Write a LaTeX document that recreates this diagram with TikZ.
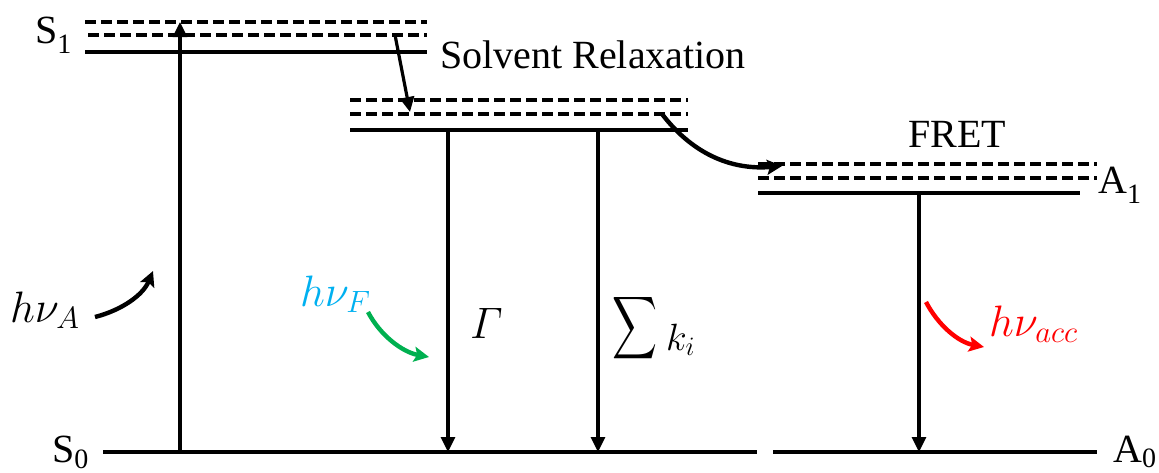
\RequirePackage{fix-cm}
\documentclass[tikz,border=0pt]{standalone}
\usepackage{amsmath}
\usepackage{amssymb}
\usepackage{fontspec}
\setmainfont{Liberation Serif}
\usetikzlibrary{arrows.meta}
\definecolor{fcyan}{RGB}{0,176,240}
\definecolor{fgreen}{RGB}{0,176,80}
\definecolor{fred}{RGB}{255,0,0}
\newcommand\lvsub[2]{\raisebox{-#1}{\fontsize{28}{28}\selectfont #2}}
\tikzset{
  lbl/.style={font=\fontsize{40}{48}\selectfont, inner sep=0pt, anchor=base west},
  mlbl/.style={font=\fontsize{44}{52}\selectfont, inner sep=0pt, anchor=base west},
  level/.style={line width=3.4pt},
  vlevel/.style={line width=3.4pt, dash pattern=on 11pt off 5pt},
  trans/.style={line width=3.2pt, -{Triangle[length=15pt,width=14pt]}},
  curvy/.style={line width=4.4pt, -{Stealth[length=15pt,width=15pt,inset=3pt]}}
}
\begin{document}
\begin{tikzpicture}[x=1pt,y=-1pt]
\useasboundingbox (0,0) rectangle (1159,472);
% donor S1 manifold
\draw[vlevel] (85,22) -- (427,22);
\draw[vlevel] (88,35) -- (427,35);
\draw[level] (85,52) -- (427,52);
% relaxed S1
\draw[vlevel] (350,100) -- (688,100);
\draw[vlevel] (350,114) -- (688,114);
\draw[level] (350,130) -- (688,130);
% acceptor A1
\draw[vlevel] (758,164) -- (1097,164);
\draw[vlevel] (758,178) -- (1097,178);
\draw[level] (758,193) -- (1080,193);
% ground states
\draw[level] (103,452) -- (757,452);
\draw[level] (773,452) -- (1097,452);
% coordinates
\coordinate (exB) at (180,452);
\coordinate (exT) at (180,22);
\coordinate (g1T) at (448,130);
\coordinate (g1B) at (448,452);
\coordinate (g2T) at (598,130);
\coordinate (g2B) at (598,452);
\coordinate (aT) at (919,193);
\coordinate (aB) at (919,452);
\coordinate (srS) at (395,35);
\coordinate (srE) at (410,112);
\coordinate (frS) at (662,114);
\coordinate (frE) at (782,166);
\coordinate (haS) at (95,317);
\coordinate (haE) at (153,271);
\coordinate (hfS) at (368,312);
\coordinate (hfE) at (429,357);
\coordinate (hcS) at (926,302);
\coordinate (hcE) at (984,347);
% transitions
\draw[trans] (exB) -- (exT);
\draw[trans] (g1T) -- (g1B);
\draw[trans] (g2T) -- (g2B);
\draw[trans] (aT) -- (aB);
\draw[trans] (srS) -- (srE);
\draw[curvy] (frS) .. controls (695,157) and (735,170) .. (frE);
\draw[curvy] (haS) .. controls (122,310) and (143,295) .. (haE);
\draw[curvy, fgreen] (hfS) .. controls (380,335) and (402,352) .. (hfE);
\draw[curvy, fred] (hcS) .. controls (938,325) and (958,342) .. (hcE);
% labels
\node[lbl] (s1) at (35,43) {S\lvsub{10pt}{1}};
\node[lbl] (s0) at (52,462) {S\lvsub{6pt}{0}};
\node[lbl] (a1) at (1098,193) {A\lvsub{10pt}{1}};
\node[lbl] (a0) at (1113,462) {A\lvsub{5pt}{0}};
\node[lbl] (sr) at (440,68) {Solvent Relaxation};
\node[lbl] (fret) at (908,147) {FRET};
\node[mlbl] (hA) at (10,322) {$h\nu_A$};
\node[mlbl, text=fcyan] (hF) at (300,306) {$h\nu_F$};
\node[mlbl] (gam) at (470,338) {$\varGamma$};
\node[inner sep=0pt] (sig) at (634.5,328) {\resizebox*{45pt}{70pt}{$\displaystyle\sum$}};
\node[mlbl, font=\fontsize{38}{44}\selectfont] (ki) at (666,350) {$k_i$};
\node[mlbl, text=fred] (hacc) at (989,336) {$h\nu_{acc}$};
\end{tikzpicture}
\end{document}
